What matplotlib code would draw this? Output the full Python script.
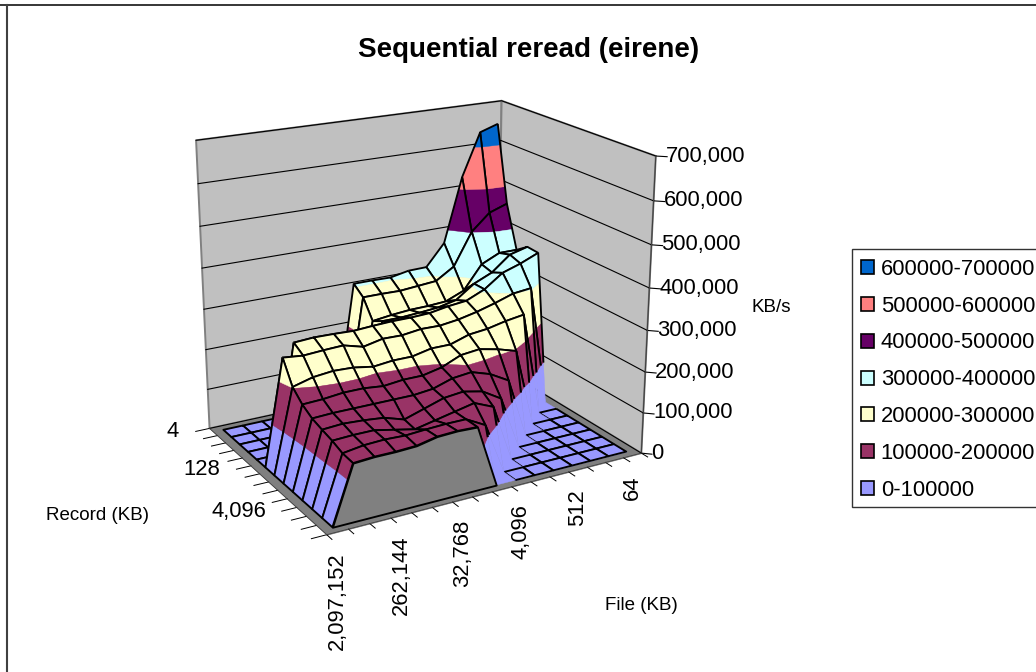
import numpy as np
import matplotlib
matplotlib.use('Agg')
import matplotlib.pyplot as plt
from matplotlib.lines import Line2D
from matplotlib.patches import Patch, Rectangle
from matplotlib.transforms import offset_copy
from mpl_toolkits.mplot3d import proj3d
from mpl_toolkits.mplot3d.art3d import Poly3DCollection, Line3DCollection

plt.rcParams['font.family'] = ['Liberation Sans', 'DejaVu Sans']

files = [64, 128, 256, 512, 1024, 2048, 4096, 8192, 16384, 32768, 65536, 131072, 262144, 524288, 1048576, 2097152]
records = [4, 8, 16, 32, 64, 128, 256, 512, 1024, 2048, 4096, 8192, 16384]

# KB/s in thousands, one row per record size, one column per file size
rec_4 = [650, 635, 529, 368, 314, 313, 304, 305, 305, 0, 0, 0, 0, 0, 0, 0]
rec_8 = [459, 443, 402, 321, 292, 288, 284, 285, 285, 0, 0, 0, 0, 0, 0, 0]
rec_16 = [353, 353, 332, 273, 254, 251, 250, 246, 240, 0, 0, 0, 0, 0, 0, 0]
rec_32 = [374, 362, 325, 305, 272, 262, 258, 255, 255, 0, 0, 0, 0, 0, 0, 0]
rec_64 = [372, 353, 338, 305, 285, 280, 272, 270, 270, 268, 265, 267, 268, 265, 0, 0]
rec_128 = [0, 305, 300, 285, 272, 262, 256, 257, 251, 252, 242, 255, 253, 250, 255, 0]
rec_256 = [0, 0, 262, 255, 245, 240, 225, 225, 215, 215, 210, 218, 220, 215, 202, 0]
rec_512 = [0, 0, 0, 196, 210, 220, 215, 195, 185, 185, 180, 185, 185, 180, 178, 0]
rec_1024 = [0, 0, 0, 0, 149, 175, 190, 185, 170, 165, 165, 165, 165, 165, 163, 0]
rec_2048 = [0, 0, 0, 0, 0, 132, 160, 170, 165, 150, 135, 150, 155, 158, 155, 0]
rec_4096 = [0, 0, 0, 0, 0, 0, 140, 160, 150, 140, 130, 140, 150, 150, 148, 0]
rec_8192 = [0, 0, 0, 0, 0, 0, 0, 125, 150, 150, 148, 145, 147, 145, 138, 0]
rec_16384 = [0, 0, 0, 0, 0, 0, 0, 0, 150, 152, 150, 140, 138, 138, 135, 0]
rows = [rec_4, rec_8, rec_16, rec_32, rec_64, rec_128, rec_256, rec_512, rec_1024, rec_2048, rec_4096, rec_8192, rec_16384]

band_labels = ['0-100000', '100000-200000', '200000-300000', '300000-400000', '400000-500000', '500000-600000', '600000-700000']
band_colors = ['#9999FF', '#993366', '#FFFFCC', '#CCFFFF', '#660066', '#FF8080', '#0066CC']
z_ticks = [0, 100, 200, 300, 400, 500, 600, 700]

fig = plt.figure(figsize=(10.36, 6.72), dpi=100)
ax = fig.add_axes([0.1444, 0.1502, 0.5116, 0.7888], projection='3d', computed_zorder=False)
ax.set_xlim(0, 16, view_margin=0)
ax.set_ylim(0, 13, view_margin=0)
ax.set_zlim(0, 700, view_margin=0)
ax.set_axis_off()
ax.view_init(elev=19.505, azim=60.29)
ax.set_proj_type('persp', focal_length=0.5766)
ax.set_box_aspect((1.1488, 0.8839, 1))
M = ax.get_proj()


def flat(x, y, z, s, dx=0, dy=0, **kw):
    # tick labels stay level: project the anchor, then place it as 2D text
    xp, yp, _ = proj3d.proj_transform(x, y, z, M)
    tr = offset_copy(ax.transData, fig=fig, x=dx, y=dy, units='dots')
    return ax.text2D(xp, yp, s, transform=tr, zorder=5000, **kw)


# walls and floor
wall = '#C0C0C0'
floor = '#808080'
back = [(16, 0, 0), (0, 0, 0), (0, 0, 700), (16, 0, 700)]
side = [(0, 0, 0), (0, 13, 0), (0, 13, 700), (0, 0, 700)]
base = [(0, 0, 0), (16, 0, 0), (16, 13, 0), (0, 13, 0)]
ax.add_collection3d(Poly3DCollection([back, side], facecolors=wall, edgecolors=floor, linewidths=1.4), autolim=False)
ax.add_collection3d(Poly3DCollection([base], facecolors=floor, edgecolors=floor, linewidths=0.5), autolim=False)
for z in z_ticks:
    ax.plot([16, 0, 0], [0, 0, 13], [z, z, z], color='black', lw=0.8, zorder=2)
    ax.plot([0, -0.35], [13, 13.35], [z, z], color='black', lw=0.8, zorder=2)
    flat(0, 13, z, f'{z * 1000:,}', dx=10, fontsize=15.8, ha='left', va='center')
ax.plot([0, 0], [13, 13], [0, 700], color='#404040', lw=0.8, zorder=2)
for i in range(17):
    ax.plot([i, i], [13, 13.5], [0, 0], color='black', lw=0.7, zorder=2)
for i in range(14):
    ax.plot([16, 16.7], [i, i], [0, 0], color='black', lw=0.7, zorder=2)
ax.plot([16, 0], [13, 13], [0, 0], color='#404040', lw=0.6, zorder=2)
ax.plot([16, 16], [0, 13], [0, 0], color='#404040', lw=0.6, zorder=2)
for i in range(0, 16, 3):
    flat(i + 0.5, 13, 0, f'{files[i]:,}', dy=-20, fontsize=15.8, rotation=90, ha='center', va='top')
for i in range(0, 13, 5):
    flat(16, i + 0.5, 0, f'{records[i]:,}', dx=-35, fontsize=15.8, ha='right', va='center')


def clip(poly, lo, hi):
    # cut a polygon down to the part between two heights
    for level, keep_above in ((lo, True), (hi, False)):
        out = []
        for i in range(len(poly)):
            a = poly[i]
            c = poly[(i + 1) % len(poly)]
            ina = a[2] >= level if keep_above else a[2] <= level
            inc = c[2] >= level if keep_above else c[2] <= level
            if ina:
                out.append(a)
            if ina != inc:
                t = (level - a[2]) / (c[2] - a[2])
                out.append((a[0] + t * (c[0] - a[0]), a[1] + t * (c[1] - a[1]), level))
        poly = out
        if not poly:
            return []
    return poly


def upper_edges(cell, level):
    # edges of a cell, only the part at or above a height
    segs = []
    for i in range(4):
        a, c = cell[i], cell[(i + 1) % 4]
        if a[2] < level and c[2] < level:
            continue
        if a[2] < level or c[2] < level:
            t = (level - a[2]) / (c[2] - a[2])
            m = (a[0] + t * (c[0] - a[0]), a[1] + t * (c[1] - a[1]), level)
            a, c = (m, c) if a[2] < level else (a, m)
        segs.append([a, c])
    return segs


# cells go back to front, so the ones nearer the viewer paint over the rest
Z = np.array(rows, float)
order = 10
for f in range(Z.shape[1] - 1):
    for r in range(Z.shape[0] - 1):
        cell = [(f + 0.5, r + 0.5, Z[r, f]), (f + 1.5, r + 0.5, Z[r, f + 1]),
                (f + 1.5, r + 1.5, Z[r + 1, f + 1]), (f + 0.5, r + 1.5, Z[r + 1, f])]
        pieces, cols = [], []
        for b, col in enumerate(band_colors):
            piece = clip(cell, b * 100, (b + 1) * 100)
            if len(piece) >= 3:
                pieces.append(piece)
                cols.append(col)
        pc = Poly3DCollection(pieces, facecolors=cols, edgecolors=cols, linewidths=0.3)
        ax.add_collection3d(pc, autolim=False)
        pc.set_zorder(order)
        heights = [c[2] for c in cell]
        if f < 9 and r > f + 2 and min(heights) == 0 and max(heights) > 0:
            segs = upper_edges(cell, 100)
        else:
            segs = [cell + [cell[0]]]
        if segs:
            ln = Line3DCollection(segs, colors='black', linewidths=1.35)
            ax.add_collection3d(ln, autolim=False)
            ln.set_zorder(order + 0.5)
        order += 1

# gray side under the front row
front = [(f + 0.5, 12.5, Z[12, f]) for f in range(7, 16)]
skirt = Poly3DCollection([front], facecolors=floor, edgecolors='black', linewidths=1.35)
ax.add_collection3d(skirt, autolim=False)
skirt.set_zorder(order)

fig.text(529 / 1036, 1 - 50 / 672, 'Sequential reread (eirene)', fontsize=20, fontweight='bold', ha='center', va='center')
fig.text(98 / 1036, 1 - 516 / 672, 'Record (KB)', fontsize=13.5, ha='center', va='center')
fig.text(641 / 1036, 1 - 605 / 672, 'File (KB)', fontsize=13.5, ha='center', va='center')
fig.text(771 / 1036, 1 - 308 / 672, 'KB/s', fontsize=13.5, ha='center', va='center')

fig.add_artist(Rectangle((852 / 1036, 1 - 507 / 672), 200 / 1036, 258 / 672, transform=fig.transFigure, facecolor='white', edgecolor='#333333', lw=1))
handles = [Patch(facecolor=c, edgecolor='black', linewidth=1.2, label=l) for c, l in zip(band_colors[::-1], band_labels[::-1])]
fig.legend(handles=handles, loc='upper left', bbox_to_anchor=(851 / 1036, 1 - 249 / 672), fontsize=15.8, frameon=False,
           borderaxespad=0, handlelength=0.6, handleheight=0.6, labelspacing=0.72, handletextpad=0.3, borderpad=0.45)
fig.add_artist(Line2D([0, 1], [1 - 4.5 / 672] * 2, color='black', lw=1.1))
fig.add_artist(Line2D([6.5 / 1036] * 2, [0, 1 - 4.5 / 672], color='#404040', lw=1.5))

fig.savefig('out.png', dpi=100)
